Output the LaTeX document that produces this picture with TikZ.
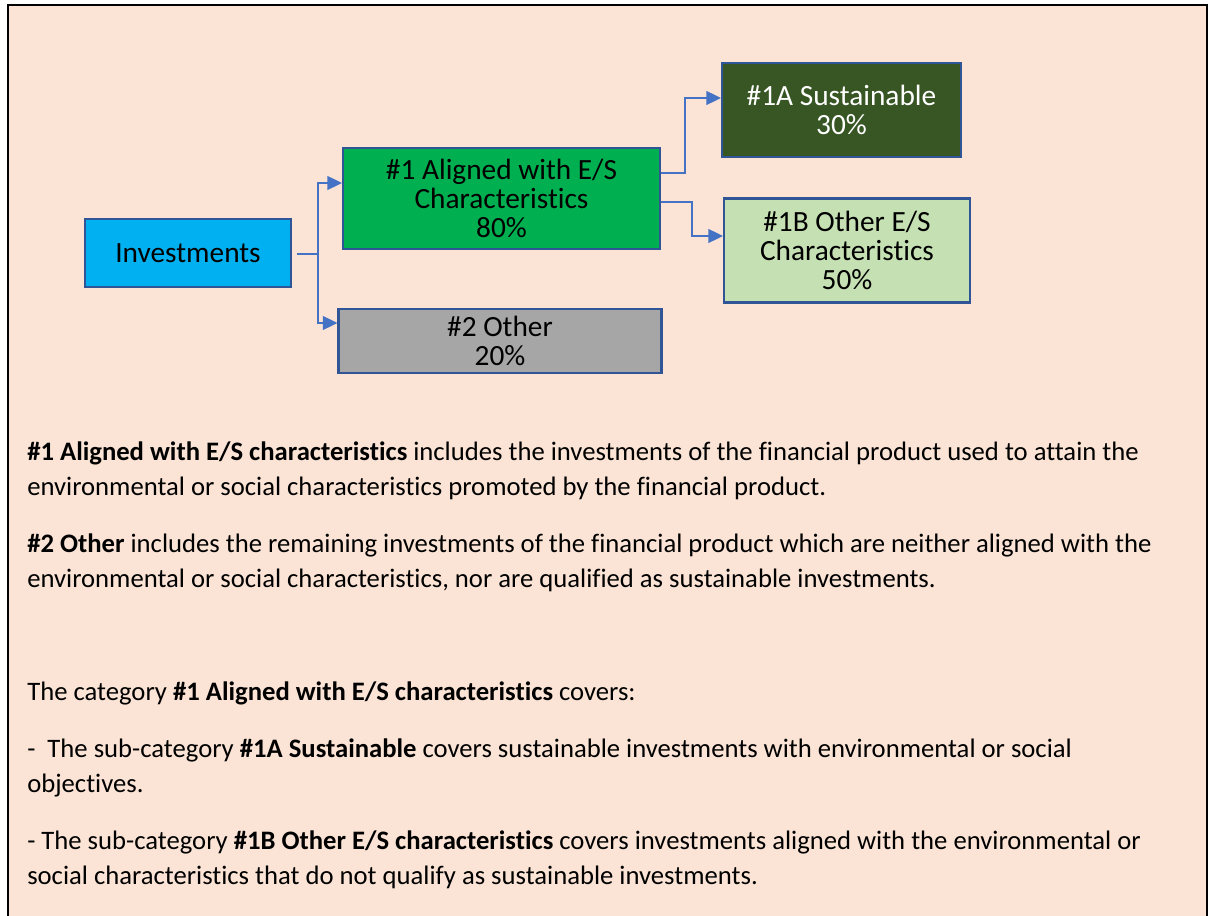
\documentclass[tikz,border=0pt]{standalone}
\usepackage{fontspec}
\setmainfont{Carlito}[Ligatures=NoCommon]
\usepackage{tikz}
\usetikzlibrary{arrows.meta,calc,positioning}
\definecolor{pagepeach}{HTML}{FBE4D5}
\definecolor{boxedge}{HTML}{2F5597}
\definecolor{linkblue}{HTML}{4472C4}
\definecolor{invcyan}{HTML}{00B0F0}
\definecolor{alignedgreen}{HTML}{00B050}
\definecolor{othergrey}{HTML}{A6A6A6}
\definecolor{sustdark}{HTML}{375623}
\definecolor{lightgreen}{HTML}{C5E0B3}
\tikzset{
  frame/.style={black,line width=1.5pt},
  wire/.style={linkblue,line width=1.1pt},
  flow/.style={wire,-{Triangle[length=11pt,width=10.5pt]}},
  cat/.style={draw=boxedge,line width=1.6pt,align=center,inner sep=0pt,
              font=\fontsize{22}{21.75}\selectfont},
  invest/.style={cat,fill=invcyan},
  aligned/.style={cat,fill=alignedgreen},
  other/.style={cat,fill=othergrey},
  sustain/.style={cat,fill=sustdark,text=white},
  otheres/.style={cat,fill=lightgreen},
  para/.style={anchor=north west,align=left,inner sep=0pt,
               font=\fontsize{20}{26.25}\selectfont},
}
\begin{document}
\begin{tikzpicture}[x=0.75pt,y=-0.75pt]
  \path[use as bounding box] (0,0) rectangle (1212,916);
  \fill[pagepeach] (8,916) rectangle (1207,5);
  \draw[frame] (8,916) -- (8,5) -- (1207,5) -- (1207,916);

  \node[invest,minimum width=154.5pt,minimum height=51pt] (inv) at (188,253) {Investments};
  \node[aligned,minimum width=237.75pt,minimum height=75.75pt] (alig) at (501.5,198.5)
    {\#1 Aligned with E/S\\Characteristics\\80\%};
  \node[other,minimum width=242.25pt,minimum height=48pt] (oth) at (500,341)
    {\#2 Other\\20\%};
  \node[sustain,minimum width=179.25pt,minimum height=70.5pt] (sus) at (841.5,110)
    {\#1A Sustainable\\30\%};
  \node[otheres,minimum width=184.5pt,minimum height=78pt] (oes) at (847,250.5)
    {\#1B Other E/S\\Characteristics\\50\%};

  \coordinate (fork) at (318,254);
  \draw[wire] ([xshift=3.75pt,yshift=-0.75pt]inv.east) -- (fork);
  \draw[flow] (fork) |- (alig.west |- 0,183);
  \draw[flow] (fork) |- (oth.west |- 0,323);
  \draw[flow] (alig.east |- 0,173) -- (685,173) |- (sus.west |- 0,98);
  \draw[flow] (alig.east |- 0,202) -- (692,202) |- (oes.west |- 0,236);

  \node[para] (p1) at (27,442)
    {\textbf{\#1 Aligned with E/S characteristics} includes the investments of the financial product used to attain the\\
     environmental or social characteristics promoted by the financial product.};
  \node[para] (p2) at (27,534)
    {\textbf{\#2 Other} includes the remaining investments of the financial product which are neither aligned with the\\
     environmental or social characteristics, nor are qualified as sustainable investments.};
  \node[para] (p3) at (27,682)
    {The category \textbf{\#1 Aligned with E/S characteristics} covers:};
  \node[para] (p4) at (27,739)
    {-~ The sub-category \textbf{\#1A Sustainable} covers sustainable investments with environmental or social\\
     objectives.};
  \node[para] (p5) at (27,831)
    {- The sub-category \textbf{\#1B Other E/S characteristics} covers investments aligned with the environmental or\\
     social characteristics that do not qualify as sustainable investments.};
\end{tikzpicture}
\end{document}
